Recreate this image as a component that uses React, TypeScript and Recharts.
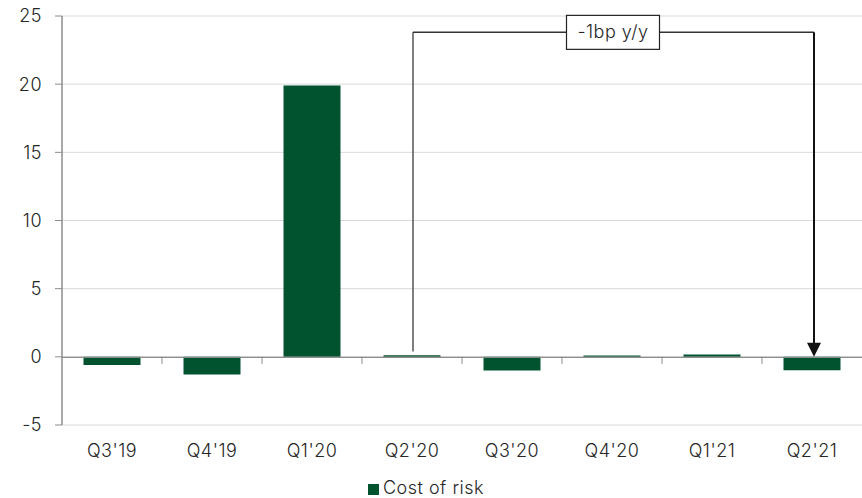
import React from "react";
import {
  BarChart,
  Bar,
  XAxis,
  YAxis,
  CartesianGrid,
  Legend,
  ReferenceLine,
  ReferenceDot,
} from "recharts";

const quarters = ["Q3'19", "Q4'19", "Q1'20", "Q2'20", "Q3'20", "Q4'20", "Q1'21", "Q2'21"];
const costOfRisk = [-0.6, -1.3, 19.9, 0.12, -1.0, 0.1, 0.17, -0.98];
const yTicks = [-5, 0, 5, 10, 15, 20, 25];
const annotationText = "-1bp y/y";
const annotationLevel = 23.8;

const data = quarters.map((q, i) => ({ quarter: q, value: costOfRisk[i] }));

const FONT = "Inter, 'Noto Sans', sans-serif";
const WEIGHT = 300;
const SIZE = 18;
const SPACING = "0.5px";
const TEXT = "#262626";
const AXIS = "#8c8c8c";
const BAR = "#01522f";

const ZeroLine = (p: any) => {
  const { x1, x2, y1 } = p;
  const n = quarters.length;
  const w = (x2 - x1) / n;
  const ticks = [];
  for (let i = 1; i < n; i++) {
    const x = x1 + i * w;
    ticks.push(<line key={i} x1={x} x2={x} y1={y1} y2={y1 + 7} stroke={AXIS} strokeWidth={1} />);
  }
  return (
    <g>
      <line x1={x1} x2={x2} y1={y1 + 0.5} y2={y1 + 0.5} stroke={AXIS} strokeWidth={1.2} />
      {ticks}
    </g>
  );
};

const ArrowLine = (p: any) => {
  const { x1, y1, y2 } = p;
  const top = Math.min(y1, y2);
  const bottom = Math.max(y1, y2);
  const x = x1 + 2;
  return (
    <g>
      <line x1={x} x2={x} y1={top} y2={bottom - 12} stroke="#111" strokeWidth={2} />
      <polygon points={`${x - 7},${bottom - 14} ${x + 7},${bottom - 14} ${x},${bottom}`} fill="#111" />
    </g>
  );
};

const HLine = (p: any) => {
  const { x1, x2, y1 } = p;
  return <line x1={x1 + 1} x2={x2 + 2} y1={y1} y2={y1} stroke="#333" strokeWidth={1.5} />;
};

const VLine = (p: any) => {
  const { x1, y1, y2 } = p;
  return <line x1={x1 + 1} x2={x1 + 1} y1={y1} y2={y2} stroke="#555" strokeWidth={1.5} />;
};

const LabelBox = (p: any) => {
  const { cx, cy } = p;
  const w = 93;
  const h = 34;
  return (
    <g>
      <rect x={cx - w / 2 + 1} y={cy - h / 2} width={w} height={h} fill="#fff" stroke="#222" strokeWidth={1.2} />
      <text
        x={cx + 1}
        y={cy + 6}
        textAnchor="middle"
        fontFamily={FONT}
        fontWeight={WEIGHT}
        fontSize={SIZE}
        letterSpacing={SPACING}
        fill={TEXT}
      >
        {annotationText}
      </text>
    </g>
  );
};

const tickStyle = { fontFamily: FONT, fontWeight: WEIGHT, fontSize: SIZE, fill: TEXT, letterSpacing: SPACING };

export default function App() {
  return (
    <div style={{ position: "absolute", left: 0, top: 0 }}>
      <BarChart
        width={862}
        height={498}
        data={data}
        margin={{ top: 16, right: 0, bottom: 0, left: 0 }}
        barCategoryGap="21.5%"
      >
        <CartesianGrid vertical={false} stroke="#d9d9d9" />
        <XAxis
          dataKey="quarter"
          axisLine={false}
          tickLine={false}
          tickSize={6}
          tickMargin={13}
          height={52}
          tick={tickStyle}
          interval={0}
        />
        <YAxis
          domain={[-5, 25]}
          ticks={yTicks}
          width={62}
          axisLine={{ stroke: AXIS, strokeWidth: 1.5 }}
          tickLine={{ stroke: AXIS }}
          tickSize={7}
          tickMargin={13}
          tick={tickStyle}
          interval={0}
        />
        <ReferenceLine y={0} shape={ZeroLine} />
        <Bar dataKey="value" name="Cost of risk" fill={BAR} isAnimationActive={false} />
        <ReferenceLine
          segment={[
            { x: "Q2'20", y: 0.4 },
            { x: "Q2'20", y: annotationLevel },
          ]}
          shape={VLine}
        />
        <ReferenceLine
          segment={[
            { x: "Q2'20", y: annotationLevel },
            { x: "Q2'21", y: annotationLevel },
          ]}
          shape={HLine}
        />
        <ReferenceLine
          segment={[
            { x: "Q2'21", y: annotationLevel },
            { x: "Q2'21", y: 0 },
          ]}
          shape={ArrowLine}
        />
        <ReferenceDot x="Q4'20" y={annotationLevel} r={0} shape={LabelBox} />
        <Legend
          verticalAlign="bottom"
          iconType="square"
          iconSize={11}
          wrapperStyle={{ fontFamily: FONT, fontWeight: WEIGHT, fontSize: SIZE, letterSpacing: SPACING, color: TEXT, paddingTop: 0 }}
          formatter={(v: any) => <span style={{ color: TEXT }}>{v}</span>}
        />
      </BarChart>
    </div>
  );
}
